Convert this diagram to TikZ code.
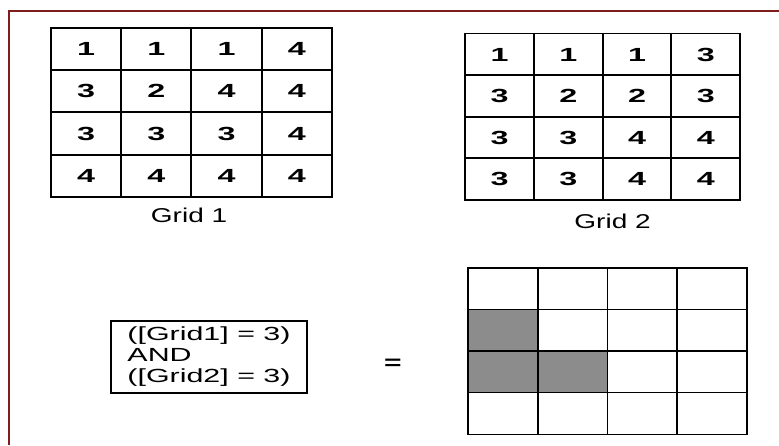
\documentclass[tikz,border=0pt]{standalone}
\usepackage{fontspec}
\setmainfont{Liberation Sans}
\usetikzlibrary{positioning}
\definecolor{framered}{HTML}{7F1D1D}
\newcommand{\widetxt}[2][1.8]{\scalebox{#1}[1]{#2}}

\begin{document}
\begin{tikzpicture}[
  x=1pt, y=-1pt,
  font=\fontsize{17}{20}\selectfont,
  cell/.style={draw, line width=1.6pt, inner sep=0pt, minimum width=70pt, minimum height=42pt, font=\fontsize{19}{20}\selectfont\bfseries},
  gridlabel/.style={inner sep=0pt, font=\fontsize{20}{22}\selectfont},
  rulebox/.style={draw, line width=1.4pt, align=left, inner sep=0pt, minimum width=196pt, minimum height=72pt, font=\fontsize{19}{21}\selectfont}
]
  \useasboundingbox (0,0) rectangle (779,445);
  \draw[framered, line width=1.5pt] (9,445) -- (9,11) -- (779,11);

  % Grid 1
  \foreach \r/\vals in {1/{1,1,1,4},2/{3,2,4,4},3/{3,3,3,4},4/{4,4,4,4}}
    \foreach \v [count=\c] in \vals
      \node[cell] (ga-\r-\c) at ({86+70.25*(\c-1)},{49+42.25*(\r-1)}) {\widetxt[1.7]{\v}};
  \node[gridlabel, below=10pt of ga-4-2.south east, xshift=-3pt] (ga-lab) {\widetxt[1.4]{Grid 1}};

  % Grid 2
  \foreach \r/\vals in {1/{1,1,1,3},2/{3,2,2,3},3/{3,3,4,4},4/{3,3,4,4}}
    \foreach \v [count=\c] in \vals
      \node[cell, minimum width=69pt] (gb-\r-\c) at ({499.5+68.75*(\c-1)},{54.5+41.5*(\r-1)}) {\widetxt[1.7]{\v}};
  \node[gridlabel, below=13pt of gb-4-2.south east, xshift=9pt] (gb-lab) {\widetxt[1.4]{Grid 2}};

  % result
  \foreach \r/\cols in {1/{white,white,white,white},2/{black!45,white,white,white},3/{black!45,black!45,white,white},4/{white,white,white,white}}
    \foreach \f [count=\c] in \cols
      \node[cell, fill=\f] (gc-\r-\c) at ({503+69.75*(\c-1)},{289+41.5*(\r-1)}) {};

  \node[rulebox] (cond) at (209,357) {\widetxt[1.6]{([Grid1] = 3)}\\\widetxt[1.6]{AND}\\\widetxt[1.6]{([Grid2] = 3)}};
  \node[inner sep=0pt, font=\fontsize{20}{20}\selectfont\bfseries] (eq) at (393,364) {\widetxt[1.5]{=}};
\end{tikzpicture}
\end{document}
